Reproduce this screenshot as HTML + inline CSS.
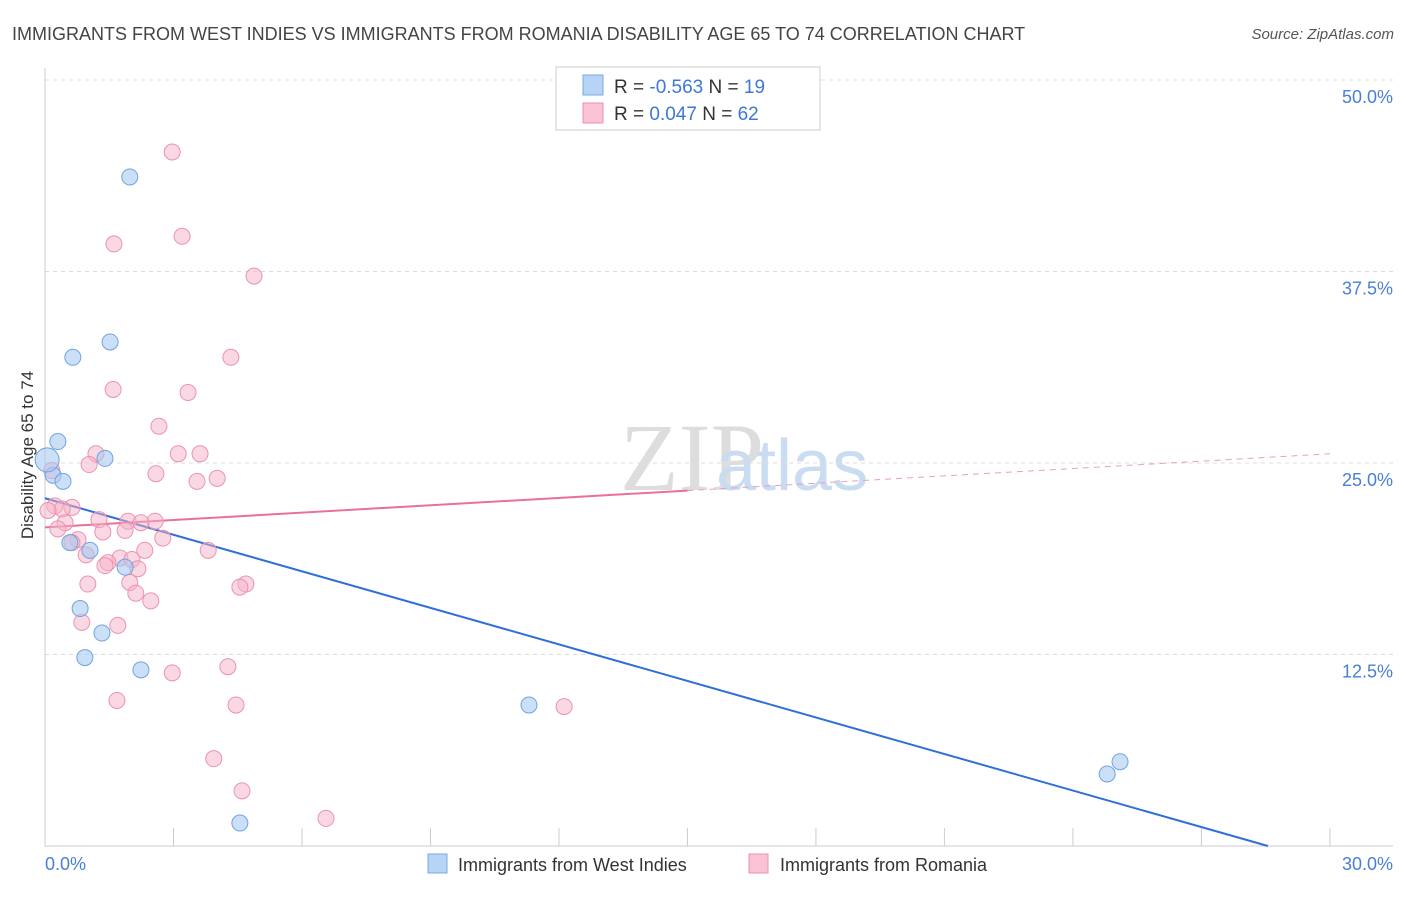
<!DOCTYPE html>
<html><head><meta charset="utf-8"><style>
body{margin:0;background:#fff;font-family:"Liberation Sans",sans-serif;}
</style></head><body>
<svg width="1406" height="892" xmlns="http://www.w3.org/2000/svg" id="chart">
<text x="12" y="40" font-size="18" fill="#444">IMMIGRANTS FROM WEST INDIES VS IMMIGRANTS FROM ROMANIA DISABILITY AGE 65 TO 74 CORRELATION CHART</text>
<text x="1394" y="39" font-size="15" fill="#555" font-style="italic" text-anchor="end">Source: ZipAtlas.com</text>
<text x="620" y="490" font-size="96" fill="#ddd" font-family="Liberation Serif">ZIP</text>
<text x="716" y="490" font-size="72" fill="#c9dcf2">atlas</text>
<g id="grid"></g>
<line x1="45" y1="68" x2="45" y2="846" stroke="#ccc"/>
<line x1="45" y1="846" x2="1393" y2="846" stroke="#ccc"/>
<text transform="translate(33,455) rotate(-90)" font-size="17" fill="#333" text-anchor="middle">Disability Age 65 to 74</text>
<text x="45" y="870" font-size="18" fill="#4a7fd4">0.0%</text>
<text x="1393" y="870" font-size="18" fill="#4a7fd4" text-anchor="end">30.0%</text>
<g id="trend"></g>
<g id="pts"></g>
<g>
<rect x="556" y="67" width="264" height="63" fill="#fff" stroke="#ccc"/>
<rect x="583" y="75" width="20" height="20" fill="#b7d3f5" stroke="#7aa9e3"/>
<rect x="583" y="103" width="20" height="20" fill="#f9c3d4" stroke="#eb92b0"/>
<text x="614" y="93" font-size="19" fill="#333">R = <tspan fill="#3d78d8">-0.563</tspan>   N = <tspan fill="#3d78d8">19</tspan></text>
<text x="614" y="120" font-size="19" fill="#333">R =  <tspan fill="#3d78d8">0.047</tspan>   N = <tspan fill="#3d78d8">62</tspan></text>
</g>
<g>
<rect x="428" y="854" width="19" height="19" fill="#b7d3f5" stroke="#7aa9e3"/>
<text x="458" y="871" font-size="18" fill="#333">Immigrants from West Indies</text>
<rect x="749" y="854" width="19" height="19" fill="#f9c3d4" stroke="#eb92b0"/>
<text x="780" y="871" font-size="18" fill="#333">Immigrants from Romania</text>
</g>
</svg>
<script>
const yTicks=[12.5,25,37.5,50];
const yTickLabels=["12.5%","25.0%","37.5%","50.0%"];
const xTicks=[3,6,9,12,15,18,21,24,27,30];
const blueX=[1.98,1.52,0.65,0.30,1.40,0.19,0.42,0.58,1.05,1.87,0.82,1.33,0.93,2.24,11.3,25.1,24.8,4.55];
const blueY=[43.67,32.9,31.9,26.4,25.3,24.2,23.8,19.8,19.3,18.2,15.5,13.9,12.3,11.5,9.2,5.5,4.7,1.5];
const pinkX=[2.97,3.20,1.61,4.88,4.34,1.59,3.34,2.66,1.19,3.11,3.62,1.03,2.59,3.55,4.02,0.16,0.23,0.63,0.40,0.07,0.47,1.26,1.94,2.57,2.24,0.30,1.35,1.87,0.77,2.75,0.63,2.33,3.81,0.96,1.75,2.03,1.47,1.40,2.17,1.98,1.00,4.69,4.55,2.12,2.47,0.86,1.70,4.27,2.97,1.68,4.46,12.12,3.94,4.60,6.56,12.26];
const pinkY=[45.3,39.8,39.3,37.2,31.9,29.8,29.6,27.4,25.6,25.6,25.6,24.9,24.3,23.8,24.0,24.5,22.2,22.1,22.0,21.9,21.1,21.3,21.2,21.2,21.1,20.7,20.5,20.6,20.0,20.1,19.8,19.3,19.3,19.0,18.8,18.7,18.5,18.3,18.1,17.2,17.1,17.1,16.9,16.5,16.0,14.6,14.4,11.7,11.3,9.5,9.2,9.1,5.7,3.6,1.8,47.6];
const blueBigX=[0.05], blueBigY=[25.2];
const blueTrend=[22.7,-0.795];
const pinkTrend=[20.8,0.16];
const pinkSolidEnd=15;
const NS="http://www.w3.org/2000/svg";
const sx=v=>45+v*42.83, sy=v=>846-v*15.32;
function mk(t,a,p){const e=document.createElementNS(NS,t);for(const k in a)e.setAttribute(k,a[k]);p.appendChild(e);return e;}
const grid=document.getElementById('grid');
yTicks.forEach((t,i)=>{
 const l=mk('line',{x1:45,x2:1393,y1:sy(t),y2:sy(t),stroke:'#ddd','stroke-dasharray':'4,4'},grid);
 
 
 const tx=mk('text',{x:1393,y:sy(t)+23,'font-size':18,fill:'#4a7fd4','text-anchor':'end'},grid);
 tx.textContent=yTickLabels[i];
 
 
});
xTicks.forEach(t=>{
 const l=mk('line',{x1:sx(t),x2:sx(t),y1:828,y2:846,stroke:'#ccc'},grid);
 
 
});
const tr=document.getElementById('trend');
const bEnd=-blueTrend[0]/blueTrend[1];
let l1=mk('line',{x1:sx(0),y1:sy(blueTrend[0]),x2:sx(bEnd),y2:sy(0),stroke:'#2f6fd8','stroke-width':2},tr);


let l2=mk('line',{x1:sx(0),y1:sy(pinkTrend[0]),x2:sx(pinkSolidEnd),y2:sy(pinkTrend[0]+pinkTrend[1]*pinkSolidEnd),stroke:'#e8709a','stroke-width':2},tr);


let l3=mk('line',{x1:sx(pinkSolidEnd),y1:sy(pinkTrend[0]+pinkTrend[1]*pinkSolidEnd),x2:sx(30),y2:sy(pinkTrend[0]+pinkTrend[1]*30),stroke:'#e8a0b8','stroke-width':1,'stroke-dasharray':'6,5'},tr);


const pts=document.getElementById('pts');
pinkX.forEach((x,i)=>{
 const c=mk('circle',{cx:sx(x),cy:sy(pinkY[i]),r:8,fill:'rgba(246,178,200,0.5)',stroke:'#eb92b0','stroke-width':1},pts);
 
 
});
blueX.forEach((x,i)=>{
 const c=mk('circle',{cx:sx(x),cy:sy(blueY[i]),r:8,fill:'rgba(169,201,240,0.6)',stroke:'#6fa3e0','stroke-width':1},pts);
 
 
});
blueBigX.forEach((x,i)=>{
 const c=mk('circle',{cx:sx(x),cy:sy(blueBigY[i]),r:12,fill:'rgba(169,201,240,0.6)',stroke:'#6fa3e0','stroke-width':1},pts);
 
 
});
</script>
</body></html>
